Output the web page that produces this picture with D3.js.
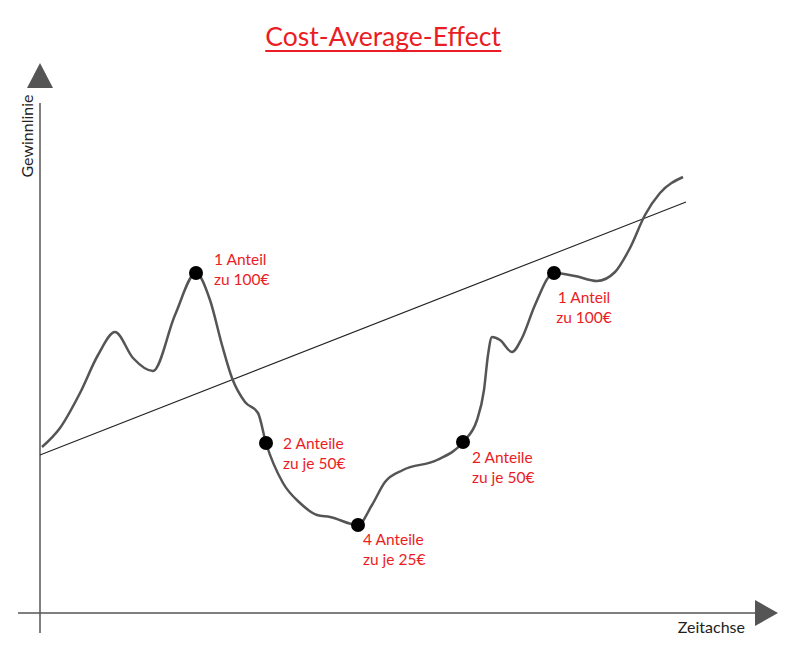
<!DOCTYPE html>
<html>
<head>
<meta charset="utf-8">
<script src="https://cdn.jsdelivr.net/npm/d3@7"></script>
<style>
  body { margin: 0; background: #fff; }
  svg { display: block; font-family: Lato, "Open Sans", sans-serif; }
</style>
</head>
<body>
<div id="chart"></div>
<script>
// price curve (time, value)
const curveTime = [0.2, 2.0, 4.0, 5.8, 7.5, 9.3, 11.3, 13.5, 15.6, 17.0, 18.2, 19.2, 20.5, 21.8, 22.6,
  24.3, 26.0, 27.7, 29.0, 31.8, 33.2, 34.5, 36.3, 39.7, 42.3, 43.7, 44.4, 44.8, 45.2, 46.0,
  47.2, 48.2, 49.5, 51.4, 53.5, 55.7, 57.5, 59.0, 60.5, 62.0, 64.3];
const curveValue = [16.6, 18.5, 22.0, 25.8, 28.1, 25.5, 24.2, 29.8, 34.0, 31.3, 26.8, 23.5, 21.1, 20.0, 17.0,
  13.0, 11.0, 9.8, 9.6, 8.8, 10.8, 13.1, 14.3, 15.3, 17.1, 19.3, 22.3, 25.8, 27.6, 27.3,
  26.1, 27.5, 30.8, 34.0, 33.7, 33.2, 34.1, 36.5, 39.8, 42.0, 43.6];

// purchase points
const buyTime = [15.6, 22.6, 31.8, 42.3, 51.4];
const buyValue = [34.0, 17.0, 8.8, 17.1, 34.0];
const buyLabels = [
  ["1 Anteil", "zu 100€"],
  ["2 Anteile", "zu je 50€"],
  ["4 Anteile", "zu je 25€"],
  ["2 Anteile", "zu je 50€"],
  ["1 Anteil", "zu 100€"]
];

// trend line
const trendTime = [0, 64.6];
const trendValue = [15.8, 41.1];

const width = 800, height = 656;
const red = "#ea1d25", axisCol = "#555";

const x = d3.scaleLinear().domain([0, 74]).range([40, 780]);
const y = d3.scaleLinear().domain([0, 55]).range([613, 63]);

const svg = d3.select("#chart").append("svg")
    .attr("width", width)
    .attr("height", height);

// title
const title = svg.append("text")
    .attr("x", 383).attr("y", 46)
    .attr("text-anchor", "middle")
    .attr("fill", red)
    .attr("font-size", 26.5)
    .text("Cost-Average-Effect");
const tb = title.node().getBBox();
svg.append("line")
    .attr("x1", tb.x).attr("x2", tb.x + tb.width)
    .attr("y1", 51).attr("y2", 51)
    .attr("stroke", red).attr("stroke-width", 2);

// axes
svg.append("line")
    .attr("x1", x(0)).attr("x2", x(0))
    .attr("y1", 633).attr("y2", y(51))
    .attr("stroke", axisCol).attr("stroke-width", 1.5);
svg.append("line")
    .attr("x1", 18).attr("x2", x(71.5))
    .attr("y1", y(0)).attr("y2", y(0))
    .attr("stroke", axisCol).attr("stroke-width", 1.5);

// arrow heads
svg.append("path")
    .attr("d", `M${x(0)},${y(55)} L${x(0) + 13},${y(52.5)} L${x(0) - 13},${y(52.5)} Z`)
    .attr("fill", axisCol);
svg.append("path")
    .attr("d", `M${x(73.8)},${y(0)} L${x(71.5)},${y(0) - 13} L${x(71.5)},${y(0) + 13} Z`)
    .attr("fill", axisCol);

svg.append("text")
    .attr("transform", `translate(33,136) rotate(-90)`)
    .attr("text-anchor", "middle")
    .attr("font-size", 16)
    .attr("fill", "#222")
    .text("Gewinnlinie");
svg.append("text")
    .attr("x", 745).attr("y", 633)
    .attr("text-anchor", "end")
    .attr("font-size", 16)
    .attr("fill", "#222")
    .text("Zeitachse");

// trend line
svg.append("line")
    .attr("x1", x(trendTime[0])).attr("y1", y(trendValue[0]))
    .attr("x2", x(trendTime[1])).attr("y2", y(trendValue[1]))
    .attr("stroke", "#222").attr("stroke-width", 1.1);

// price curve
const pts = curveTime.map((t, i) => [t, curveValue[i]]);
const line = d3.line()
    .x(d => x(d[0]))
    .y(d => y(d[1]))
    .curve(d3.curveMonotoneX);
svg.append("path")
    .datum(pts)
    .attr("d", line)
    .attr("fill", "none")
    .attr("stroke", "#555")
    .attr("stroke-width", 2.5);

// purchase dots + labels
const labelPos = [
  {dx: 18, dy: -8, anchor: "start"},
  {dx: 17, dy: 6, anchor: "start"},
  {dx: 5, dy: 20, anchor: "start"},
  {dx: 9, dy: 21, anchor: "start"},
  {dx: 30, dy: 30, anchor: "middle"}
];

buyTime.forEach((t, i) => {
  const cx = x(t), cy = y(buyValue[i]);
  svg.append("circle")
      .attr("cx", cx).attr("cy", cy).attr("r", 7)
      .attr("fill", "#000");
  const p = labelPos[i];
  const txt = svg.append("text")
      .attr("text-anchor", p.anchor)
      .attr("font-size", 15.5)
      .attr("fill", red);
  buyLabels[i].forEach((s, j) => {
    txt.append("tspan")
        .attr("x", cx + p.dx)
        .attr("y", cy + p.dy + j * 20)
        .text(s);
  });
});
</script>
</body>
</html>
